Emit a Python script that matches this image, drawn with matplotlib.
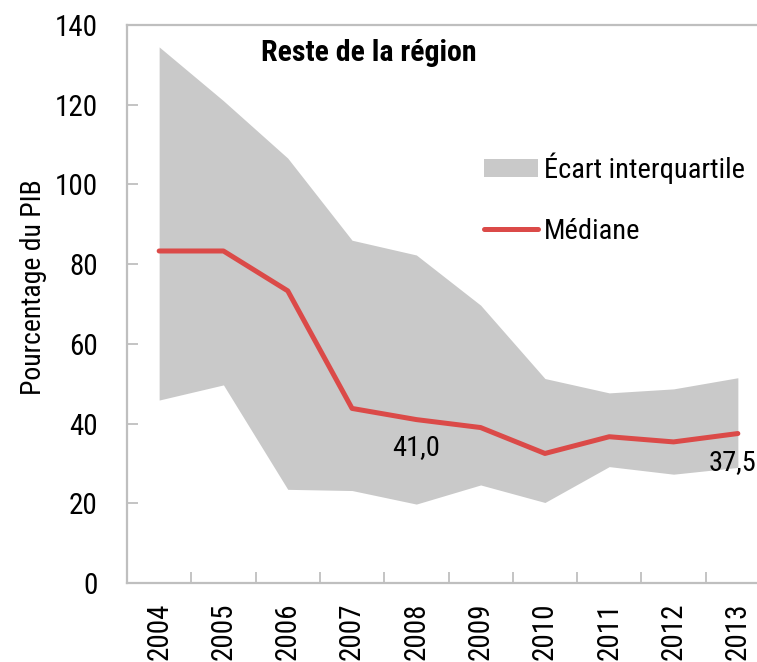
import matplotlib
matplotlib.use('Agg')
import matplotlib.pyplot as plt
import matplotlib.patches as mpatches
import matplotlib.lines as mlines
import numpy as np

years = ['2004', '2005', '2006', '2007', '2008', '2009', '2010', '2011', '2012', '2013']
q_haut = [134.5, 121.0, 106.6, 86.0, 82.3, 69.7, 51.3, 47.7, 48.7, 51.5]
q_bas = [45.9, 49.7, 23.5, 23.2, 19.8, 24.6, 20.2, 29.2, 27.3, 29.0]
mediane = [83.3, 83.3, 73.3, 43.8, 41.0, 39.0, 32.5, 36.7, 35.4, 37.5]

plt.rcParams['font.family'] = ['Roboto Condensed', 'DejaVu Sans']

rouge = '#DB4A48'
gris = '#C9C9C9'
spine_col = '#BFBFBF'

fig = plt.figure(figsize=(7.57, 6.62), dpi=100)
ax = fig.add_axes([127 / 757, 79 / 662, 643 / 757, 558 / 662])

x = np.arange(len(years))
ax.fill_between(x, q_bas, q_haut, color=gris, lw=0, zorder=1)
ax.plot(x, mediane, color=rouge, lw=3.6, solid_capstyle='round', zorder=2)

# étiquettes de valeurs
ax.text(x[4], 34.1, '41,0', ha='center', va='center', fontsize=20.5)
ax.text(8.55, 30.1, '37,5', ha='left', va='center', fontsize=20.5)

ax.set_xlim(-0.5, len(years) - 0.5)
ax.set_ylim(0, 140)
ax.set_yticks(np.arange(0, 141, 20))
ax.set_xticks(x)
ax.set_xticklabels(years, rotation=90, fontsize=21)
ax.set_xticks(np.arange(0.5, len(years) - 1, 1), minor=True)
ax.tick_params(axis='x', which='major', length=0, pad=14)
ax.tick_params(axis='x', which='minor', direction='in', length=8, width=1.3, color=spine_col)
ax.tick_params(axis='y', direction='in', length=8, width=1.3, color=spine_col, labelsize=21, pad=21)

for s in ax.spines.values():
    s.set_color(spine_col)
    s.set_linewidth(1.6)

ax.set_ylabel('Pourcentage du PIB', fontsize=20)
ax.yaxis.set_label_coords(-0.124, 0.53)

ax.text(0.209, 0.949, 'Reste de la région', transform=ax.transAxes,
        fontsize=21.5, fontweight='bold', ha='left', va='center')

h_fill = mpatches.Patch(color=gris, lw=0)
h_line = mlines.Line2D([], [], color=rouge, lw=3.6, solid_capstyle='round')
ax.legend([h_fill, h_line], ['Écart interquartile', 'Médiane'],
          loc='upper left', bbox_to_anchor=(0.555, 0.772), frameon=False,
          fontsize=20.5, handlelength=1.9, handleheight=0.6, handletextpad=0.2,
          labelspacing=1.2, borderpad=0, borderaxespad=0)

fig.savefig('out.png', dpi=100)
